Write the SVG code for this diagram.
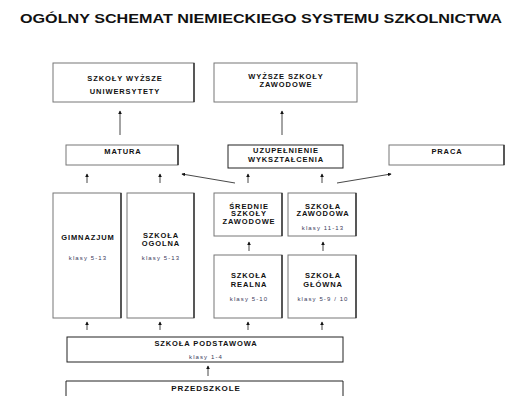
<svg xmlns="http://www.w3.org/2000/svg" width="529" height="418" viewBox="0 0 529 418">
<style>
.box{fill:#fff;stroke:#777;stroke-width:1}
.sh{stroke:#222;stroke-width:1.3}
.t{font-family:"Liberation Sans",Arial,sans-serif;font-weight:bold;font-size:7.5px;fill:#111;text-anchor:middle;letter-spacing:0.9px}
.k{font-family:"Liberation Sans",Arial,sans-serif;font-size:6px;fill:#3a3a5a;text-anchor:middle;letter-spacing:1.1px}
.c{stroke:#333;stroke-width:0.9;fill:none;marker-end:url(#ah)}
</style>
<defs>
<marker id="ah" viewBox="0 0 6 6" refX="5" refY="3" markerWidth="4" markerHeight="4" orient="auto">
<path d="M0,0 L6,3 L0,6 z" fill="#111"/>
</marker>
</defs>
<rect width="529" height="418" fill="#fff"/>
<text x="261" y="23" font-family="Liberation Sans,Arial,sans-serif" font-weight="bold" font-size="13" text-anchor="middle" fill="#111" textLength="482" lengthAdjust="spacingAndGlyphs">OGÓLNY SCHEMAT NIEMIECKIEGO SYSTEMU SZKOLNICTWA</text>

<g id="szkoly-wyzsze"><rect class="box" x="53" y="63" width="141" height="39"/><line class="sh" x1="194" y1="63" x2="194" y2="102"/>
<text class="t" x="125" y="80.5">SZKOŁY WYŻSZE</text><text class="t" x="125" y="93.5">UNIWERSYTETY</text></g>
<g id="wyzsze-szkoly-zawodowe"><rect class="box" x="214" y="63" width="143" height="39"/>
<text class="t" x="286" y="79">WYŻSZE SZKOŁY</text><text class="t" x="286" y="87">ZAWODOWE</text></g>

<g id="matura"><rect class="box" x="66" y="145" width="112" height="20"/><line class="sh" x1="178" y1="145" x2="178" y2="165"/>
<text class="t" x="123" y="153.5">MATURA</text></g>
<g id="uzupelnienie"><rect class="box" x="228" y="145" width="115" height="23" style="stroke:#222"/>
<text class="t" x="286" y="152.5">UZUPEŁNIENIE</text><text class="t" x="286" y="161.5">WYKSZTAŁCENIA</text></g>
<g id="praca"><rect class="box" x="389" y="145" width="115" height="20"/><line class="sh" x1="504" y1="145" x2="504" y2="165"/>
<text class="t" x="447" y="153.5">PRACA</text></g>

<g id="gimnazjum"><rect class="box" x="53" y="193" width="68" height="125"/><line class="sh" x1="121" y1="193" x2="121" y2="318"/>
<text class="t" x="88" y="240">GIMNAZJUM</text><text class="k" x="88" y="260">klasy 5-13</text></g>
<g id="szkola-ogolna"><rect class="box" x="127" y="193" width="67" height="125"/><line class="sh" x1="194" y1="193" x2="194" y2="318"/>
<text class="t" x="161" y="238">SZKOŁA</text><text class="t" x="161" y="246">OGOLNA</text><text class="k" x="161" y="260">klasy 5-13</text></g>

<g id="srednie-szkoly-zawodowe"><rect class="box" x="214" y="193" width="68" height="43"/><line class="sh" x1="282" y1="193" x2="282" y2="236"/>
<text class="t" x="249" y="208.5">ŚREDNIE</text><text class="t" x="249" y="216">SZKOŁY</text><text class="t" x="249" y="223.5">ZAWODOWE</text></g>
<g id="szkola-zawodowa"><rect class="box" x="288" y="193" width="68" height="43"/><line class="sh" x1="356" y1="193" x2="356" y2="236"/>
<text class="t" x="323" y="208.5">SZKOŁA</text><text class="t" x="323" y="216">ZAWODOWA</text><text class="k" x="323" y="229.5">klasy 11-13</text></g>

<g id="szkola-realna"><rect class="box" x="214" y="255" width="68" height="63"/><line class="sh" x1="282" y1="255" x2="282" y2="318"/>
<text class="t" x="249" y="277.5">SZKOŁA</text><text class="t" x="249" y="286.5">REALNA</text><text class="k" x="249" y="300.5">klasy 5-10</text></g>
<g id="szkola-glowna"><rect class="box" x="288" y="255" width="68" height="63"/><line class="sh" x1="356" y1="255" x2="356" y2="318"/>
<text class="t" x="323" y="277.5">SZKOŁA</text><text class="t" x="323" y="286.5">GŁÓWNA</text><text class="k" x="323" y="300.5">klasy 5-9 / 10</text></g>

<g id="szkola-podstawowa"><rect class="box" x="67" y="337" width="276" height="25" style="stroke:#222"/>
<text class="t" x="206" y="345.5">SZKOŁA PODSTAWOWA</text><text class="k" x="206" y="359">klasy 1-4</text></g>
<g id="przedszkole"><path d="M66,396 V381 H343 V396" fill="none" stroke="#222" stroke-width="1"/>
<text class="t" x="206" y="390.5" style="font-size:8px">PRZEDSZKOLE</text></g>

<g id="connectors">
<line class="c" x1="120" y1="135" x2="120" y2="111"/>
<line class="c" x1="282" y1="135" x2="282" y2="111"/>
<line class="c" x1="87" y1="183" x2="87" y2="174"/>
<line class="c" x1="160" y1="183" x2="160" y2="174"/>
<line class="c" x1="248" y1="183" x2="248" y2="174"/>
<line class="c" x1="322" y1="183" x2="322" y2="174"/>
<line class="c" x1="235" y1="183" x2="182" y2="174"/>
<line class="c" x1="337" y1="183" x2="391" y2="174"/>
<line class="c" x1="249" y1="251" x2="249" y2="242"/>
<line class="c" x1="323" y1="251" x2="323" y2="242"/>
<line class="c" x1="87" y1="330" x2="87" y2="322"/>
<line class="c" x1="160" y1="330" x2="160" y2="322"/>
<line class="c" x1="248" y1="330" x2="248" y2="322"/>
<line class="c" x1="322" y1="330" x2="322" y2="322"/>
<line class="c" x1="208" y1="376" x2="208" y2="366"/>
</g>
</svg>
